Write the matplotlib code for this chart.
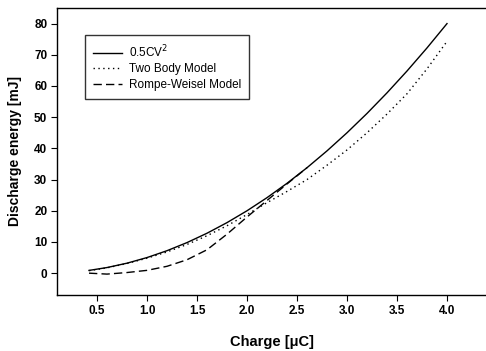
import matplotlib
matplotlib.use("Agg")
import matplotlib.pyplot as plt

plt.rcParams['font.family'] = ['Liberation Sans', 'DejaVu Sans']

charge = [0.42, 0.6, 0.8, 1.0, 1.2, 1.4, 1.6, 1.8, 2.0, 2.2, 2.4, 2.6, 2.8, 3.0, 3.2, 3.4, 3.6, 3.8, 4.0]
e_cv2 = [0.88, 1.8, 3.2, 5.0, 7.2, 9.8, 12.8, 16.2, 20.0, 24.2, 28.8, 33.8, 39.2, 45.0, 51.2, 57.8, 64.8, 72.2, 80.0]
e_twobody = [0.8, 1.7, 3.1, 4.8, 6.8, 9.2, 12.0, 15.2, 18.8, 22.6, 26.2, 30.0, 34.6, 39.5, 45.0, 51.0, 57.5, 65.5, 74.3]
charge_rw = [0.42, 0.6, 0.8, 1.0, 1.2, 1.4, 1.6, 1.8, 2.0, 2.2, 2.4, 2.6]
e_rw = [0.0, -0.3, 0.2, 0.9, 2.2, 4.3, 7.5, 12.5, 18.0, 23.3, 28.6, 33.8]

xticks = [0.5, 1.0, 1.5, 2.0, 2.5, 3.0, 3.5, 4.0]
yticks = [0, 10, 20, 30, 40, 50, 60, 70, 80]

fig = plt.figure(figsize=(4.86, 3.51), dpi=100)
ax = fig.add_axes([57/486, 1-295/351, 1-57/486, (295-8)/351])

ax.plot(charge, e_cv2, color='black', lw=1.0, ls='-', label='0.5CV$^2$')
ax.plot(charge, e_twobody, color='black', lw=1.0, ls=(0, (1, 2.5)), label='Two Body Model')
ax.plot(charge_rw, e_rw, color='black', lw=1.0, ls=(0, (6, 3)), label='Rompe-Weisel Model')

ax.set_xlim(0.1, 4.39)
ax.set_ylim(-7, 85)
ax.set_xticks(xticks)
ax.set_xticklabels([f"{t:.1f}" for t in xticks])
ax.set_yticks(yticks)
ax.tick_params(direction='out', length=4, width=0.8, labelsize=8.5, pad=3, top=False, right=False)
for lab in ax.get_xticklabels() + ax.get_yticklabels():
    lab.set_fontweight('bold')
for s in ax.spines.values():
    s.set_linewidth(1.0)
ax.spines['right'].set_visible(False)

ax.set_xlabel('Charge [\u03bcC]', fontsize=10.5, fontweight='bold', labelpad=13)
ax.set_ylabel('Discharge energy [mJ]', fontsize=10, fontweight='bold', labelpad=9)

leg = ax.legend(loc='upper left', bbox_to_anchor=((85-57)/429, 1-(35-8)/287), fontsize=8.5,
                frameon=True, fancybox=False, edgecolor='black', handlelength=2.4,
                borderpad=0.7, labelspacing=0.3, handletextpad=0.6, borderaxespad=0)
leg.get_frame().set_linewidth(1.0)

fig.savefig('out.png', dpi=100)
